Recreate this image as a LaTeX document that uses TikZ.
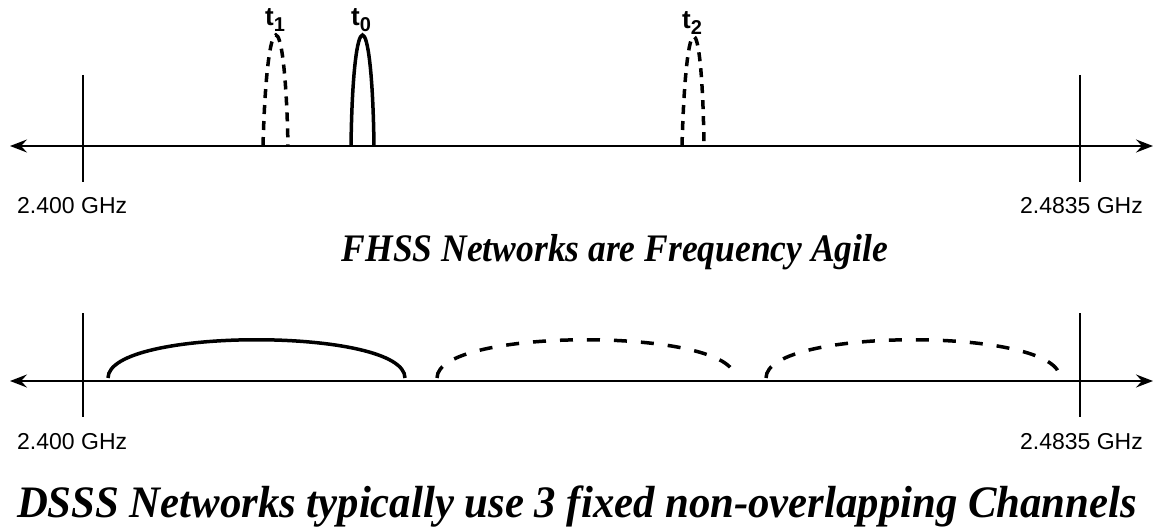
\documentclass[tikz,border=0pt]{standalone}
\usepackage{fontspec}
\setmainfont{Liberation Serif}
\setsansfont{Liberation Sans}
\usetikzlibrary{arrows.meta}

\newcommand{\hopt}[1]{t\raisebox{-6pt}{\fontsize{20}{20}\selectfont #1}}

\tikzset{
  axis/.style={line width=2pt,
    {Stealth[length=17pt,width=13pt,inset=6pt]}-{Stealth[length=17pt,width=13pt,inset=6pt]}},
  tick/.style={line width=2pt},
  freq/.style={font=\sffamily\fontsize{23}{23}\selectfont,inner sep=0pt},
  hoplabel/.style={font=\sffamily\bfseries\fontsize{26}{26}\selectfont,inner sep=0pt},
  hop/.style={line width=3.5pt},
  hopdash/.style={hop,dash pattern=on 9pt off 7pt},
  chan/.style={line width=3.5pt},
  chandash/.style={chan,dash pattern=on 13pt off 14pt},
  caption/.style={font=\bfseries\itshape\fontsize{#1}{#1}\selectfont,inner sep=0pt,anchor=base}
}

\begin{document}
\begin{tikzpicture}[x=1pt,y=-1pt]
  \useasboundingbox (0,0) rectangle (1163,527);

  % frequency hopping band
  \coordinate (fl) at (10,146);
  \coordinate (fr) at (1153,146);
  \draw[axis] (fl) -- (fr);
  \draw[tick] (83,75) -- (83,182);
  \draw[tick] (1080,75) -- (1080,182);
  \draw (17,206) node (flo) [freq,anchor=west] {2.400 GHz};
  \draw (1143,206) node (fhi) [freq,anchor=east] {2.4835 GHz};

  % hops
  \draw[hopdash] (263,146) .. controls (267,-2) and (285,-2) .. (288,146);
  \draw[hop] (351,146) .. controls (353,-2) and (372,-2) .. (374,146);
  \draw[hopdash] (682,146) .. controls (686,0) and (702,0) .. (704,146);
  \draw (275,20) node (t1) [hoplabel] {\hopt{1}};
  \draw (361,20) node (t0) [hoplabel] {\hopt{0}};
  \draw (692,23) node (t2) [hoplabel] {\hopt{2}};

  \draw (615,261) node (fhss) [caption=39,xscale=0.91] {FHSS Networks are Frequency Agile};

  % direct sequence band
  \coordinate (dl) at (10,381);
  \coordinate (dr) at (1153,381);
  \draw[axis] (dl) -- (dr);
  \draw[tick] (83,313) -- (83,417);
  \draw[tick] (1080,313) -- (1080,417);
  \draw (17,442) node (dlo) [freq,anchor=west] {2.400 GHz};
  \draw (1143,442) node (dhi) [freq,anchor=east] {2.4835 GHz};

  % channels
  \draw[chan] (108,378) .. controls (108,327) and (405,327) .. (405,378);
  \draw[chandash] (437,378) .. controls (437,327) and (735,327) .. (735,378);
  \draw[chandash] (766,378) .. controls (766,327) and (1060,327) .. (1060,378);

  \draw (577,517) node (dsss) [caption=45,xscale=0.95] {DSSS Networks typically use 3 fixed non-overlapping Channels};
\end{tikzpicture}
\end{document}
